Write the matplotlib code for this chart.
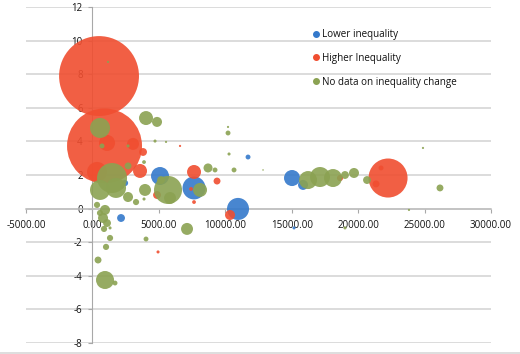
import matplotlib
matplotlib.use("Agg")
import matplotlib.pyplot as plt
from matplotlib.lines import Line2D
import numpy as np

# ---- data: (GDP-like x, growth-like y, bubble size) ----
lower_x = [5088, 7647, 10959, 11712, 2153, 2454, 15024, 15852, 15175, 2228]
lower_y = [1.94, 1.23, -0.02, 3.07, -0.56, 1.52, 1.82, 1.41, -1.15, 1.29]
lower_s = [68, 111, 102, 5, 13, 8, 54, 21, 2, 3]

higher_x = [497, 911, 346, 1099, 3056, 3809, 3583, 7647, 9378, 7422, 7647,
            10357, 22250, 21724, 21348, 4938, 4862, 18636, 6594]
higher_y = [7.89, 3.73, 2.18, 3.91, 3.85, 3.37, 2.24, 2.18, 1.64, 1.17, 0.39,
            -0.38, 1.82, 2.42, 1.47, -2.58, 0.81, 1.82, 3.73]
higher_s = [1340, 1180, 84, 54, 30, 13, 41, 41, 10, 3, 3,
            21, 320, 5, 10, 2, 13, 8, 1]

nodata_x = [572, 4034, 4862, 723, 2680, 2680, 3884, 4712, 5540, 8701, 9228,
            10206, 10206, 10282, 10658, 1475, 572, 1776, 3959, 3282, 3884,
            346, 572, 798, 1099, 873, 1325, 1325, 4034, 1024, 422, 948, 1701,
            7120, 5690, 5841, 5164, 8099, 16230, 17130, 18108, 19011, 19688,
            20667, 26160, 24880, 23826, 19011, 1174, 12842, 2680, 948]
nodata_y = [4.80, 5.39, 5.16, 3.73, 3.73, 2.54, 2.77, 4.02, 3.97, 2.42, 2.30,
            4.50, 4.86, 3.25, 2.30, 1.82, 1.11, 1.23, 1.11, 0.39, 0.57,
            0.22, -0.26, -0.56, -0.86, -1.21, -1.15, -1.75, -1.81, -2.28, -3.06, -4.25, -4.43,
            -1.21, 1.11, 0.63, 1.70, 1.11, 1.70, 1.88, 1.82, 2.00, 2.12,
            1.70, 1.23, 3.61, -0.08, -1.15, 8.73, 2.30, 0.69, -0.08]
nodata_s = [84, 41, 21, 5, 2, 10, 3, 2, 1, 17, 5,
            5, 1, 2, 5, 189, 84, 84, 30, 8, 2,
            8, 8, 21, 13, 8, 2, 8, 5, 8, 10, 68, 5,
            30, 165, 30, 13, 41, 68, 84, 68, 13, 21,
            13, 10, 1, 1, 2, 1, 0.5, 21, 21]

series_names = ["Lower inequality", "Higher Inequality", "No data on inequality change"]
x_ticks = [-5000, 0, 5000, 10000, 15000, 20000, 25000, 30000]
y_ticks = [-8, -6, -4, -2, 0, 2, 4, 6, 8, 10, 12]

# ---- style ----
C_BLUE = "#3479CB"
C_RED = "#F04E30"
C_GREEN = "#8BA252"
SCALE = 2.47
FONT = "Open Sans"

plt.rcParams["font.family"] = [FONT, "DejaVu Sans"]

fig = plt.figure(figsize=(5.2, 3.54), dpi=100)
ax = fig.add_axes([26 / 520, 1 - 343 / 354, (491 - 26) / 520, (343 - 7) / 354])

for xs, ys, ss, c in [(lower_x, lower_y, lower_s, C_BLUE),
                      (higher_x, higher_y, higher_s, C_RED),
                      (nodata_x, nodata_y, nodata_s, C_GREEN)]:
    ax.scatter(xs, ys, s=np.array(ss) * SCALE, color=c, alpha=0.9,
               linewidths=0, zorder=3)

ax.set_xlim(-5000, 30000)
ax.set_ylim(-8, 12)
ax.set_xticks(x_ticks)
ax.set_xticklabels([f"{v:.2f}" for v in x_ticks])
ax.set_yticks(y_ticks)
ax.set_yticklabels([str(v) for v in y_ticks])

for v in y_ticks:
    ax.axhline(v, color="#D2D2D2", lw=1.1, zorder=1)

ax.spines["top"].set_visible(False)
ax.spines["right"].set_visible(False)
ax.spines["left"].set_position(("data", 0))
ax.spines["bottom"].set_position(("data", 0))
ax.spines["left"].set_color("#A8A8A8")
ax.spines["left"].set_linewidth(0.8)
ax.spines["bottom"].set_color("#BDBDBD")
ax.spines["bottom"].set_linewidth(1.1)
ax.spines["left"].set_zorder(2)
ax.spines["bottom"].set_zorder(2)
ax.tick_params(axis="x", direction="out", length=3, width=0.8, color="#A8A8A8",
               labelsize=7, pad=5, labelcolor="#111111")
ax.tick_params(axis="y", direction="out", length=3, width=0.8, color="#A8A8A8",
               labelsize=7, pad=4, labelcolor="#111111")
ax.patch.set_alpha(0)

handles = [Line2D([], [], marker="o", ls="", color=c, markersize=4)
           for c in (C_BLUE, C_RED, C_GREEN)]
fig.legend(handles, series_names, loc="upper left",
           bbox_to_anchor=(313 / 520, 1 - 29 / 354), frameon=False,
           fontsize=7.1, handlelength=0.6, handletextpad=0.35,
           labelspacing=1.3, borderpad=0, borderaxespad=0,
           labelcolor="#111111")

fig.add_artist(Line2D([0, 1], [1.5 / 354, 1.5 / 354], color="#D8D8D8", lw=1.2,
                      transform=fig.transFigure))

fig.savefig("out.png", dpi=100)
